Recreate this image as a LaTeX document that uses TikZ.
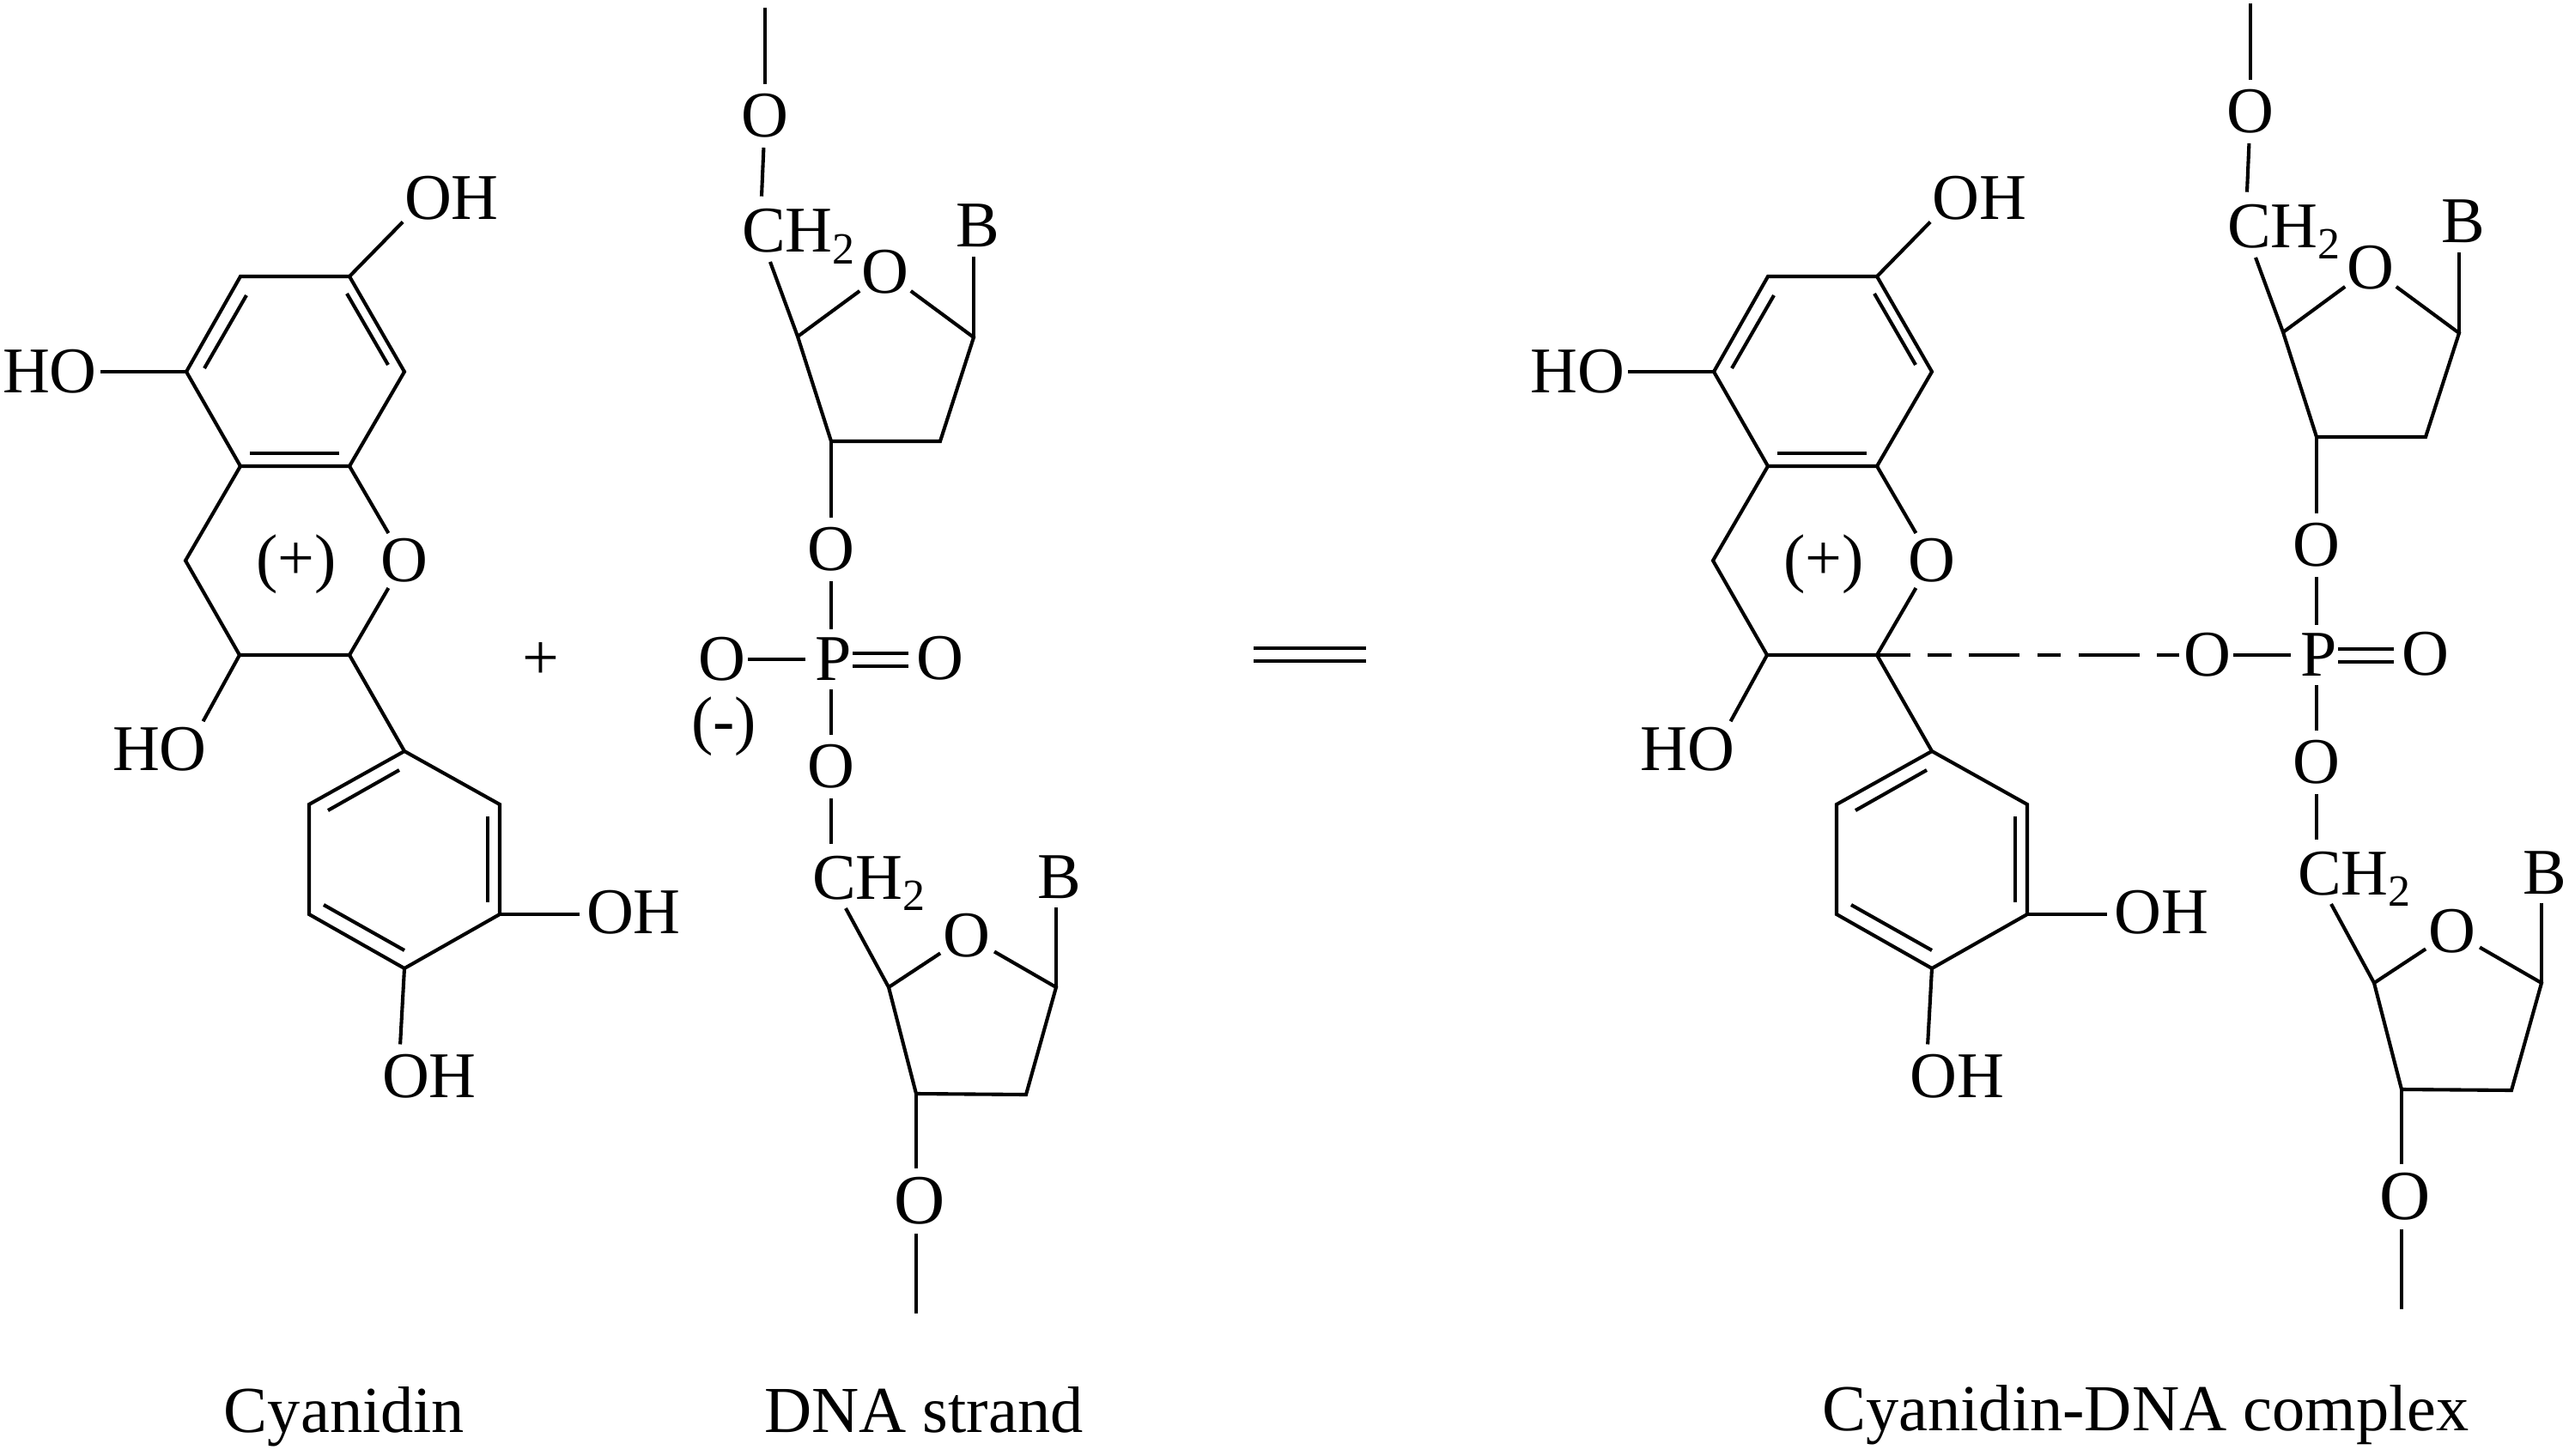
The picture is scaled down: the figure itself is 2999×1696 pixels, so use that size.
\documentclass[tikz,border=0pt]{standalone}
\usepackage{fontspec}
\setmainfont{Liberation Serif}
\tikzset{
  bond/.style={line width=2.05pt,line join=miter,line cap=butt,black},
  lab/.style={inner sep=0pt,outer sep=1pt,font=\fontsize{38}{42}\selectfont},
  atomO/.style={circle,inner sep=-0.5pt,outer sep=0pt,minimum size=37pt,font=\fontsize{38}{42}\selectfont},
  capt/.style={inner sep=0pt,anchor=base,font=\fontsize{38.2}{42}\selectfont},
}
\newcommand{\chtwo}{CH\raisebox{-6.5pt}{\fontsize{26}{28}\selectfont 2}}
\newcommand{\cyanidinmol}{%
  \coordinate (a) at (280,322); \coordinate (b) at (407,322);
  \coordinate (c) at (471,433); \coordinate (d) at (407,543);
  \coordinate (e) at (280,543); \coordinate (f) at (217,433);
  \coordinate (g) at (216,653); \coordinate (h) at (279,763);
  \coordinate (i) at (407,763); \coordinate (j) at (471,875);
  \coordinate (k) at (582,937); \coordinate (l) at (582,1065);
  \coordinate (m) at (471,1128); \coordinate (n) at (360,1065);
  \coordinate (o) at (360,937);
  \coordinate (af1) at (287,344); \coordinate (af2) at (238,429);
  \coordinate (bc1) at (404,342); \coordinate (bc2) at (452,425);
  \coordinate (de1) at (291,528); \coordinate (de2) at (395,528);
  \coordinate (jo1) at (465,897); \coordinate (jo2) at (382,944);
  \coordinate (kl1) at (568,951); \coordinate (kl2) at (568,1051);
  \coordinate (mn1) at (471,1107); \coordinate (mn2) at (377,1054);
  \node[lab] (oha) at (526,231) {OH};
  \node[lab,outer sep=2pt] (hob) at (58,433) {HO};
  \node[lab] (hoc) at (186,873) {HO};
  \node[lab,outer sep=4pt] (ohd) at (738,1063) {OH};
  \node[lab] (ohe) at (500,1254) {OH};
  \node[atomO] (ro) at (471,653) {O};
  \node[lab] (pos) at (345,657) {(+)};
  \draw[bond] (f) -- (a) -- (b) -- (c) -- (d) -- (e) -- cycle;
  \draw[bond] (d) -- (ro);
  \draw[bond] (ro) -- (i) -- (h) -- (g) -- (e);
  \draw[bond] (i) -- (j) -- (k) -- (l) -- (m) -- (n) -- (o) -- (j);
  \draw[bond] (af1) -- (af2); \draw[bond] (bc1) -- (bc2);
  \draw[bond] (de1) -- (de2); \draw[bond] (jo1) -- (jo2);
  \draw[bond] (kl1) -- (kl2); \draw[bond] (mn1) -- (mn2);
  \draw[bond] (b) -- (oha.south west);
  \draw[bond] (f) -- (hob.east);
  \draw[bond,shorten >=3pt] (h) -- (hoc.30);
  \draw[bond] (l) -- ([yshift=-1pt]ohd.west);
  \draw[bond] (m) -- ([xshift=11.5pt,yshift=5pt]ohe.north west);
}
\newcommand{\dnamol}{%
  \coordinate (top) at (891,9);
  \coordinate (bot) at (1067,1530);
  \coordinate (ca4) at (929,392); \coordinate (ca3) at (968,514);
  \coordinate (ca2) at (1095,514); \coordinate (ca1) at (1134,393);
  \coordinate (cb4) at (1035,1150); \coordinate (cb3) at (1067,1274);
  \coordinate (cb2) at (1195,1275); \coordinate (cb1) at (1230,1150);
  \node[atomO] (oa) at (891,135) {O};
  \node[lab,anchor=base west] (cha) at (862,294) {\chtwo};
  \node[atomO] (roa) at (1031,317) {O};
  \node[lab,outer sep=0pt] (ba) at (1139,263) {B};
  \node[atomO] (ob) at (968,640) {O};
  \node[circle,inner sep=0pt,outer sep=0pt,minimum size=35pt,font=\fontsize{38}{42}\selectfont] (p) at (968,768) {\kern3pt P};
  \node[atomO] (ol) at (841,768) {O};
  \node[atomO] (orr) at (1095,767) {O};
  \node[atomO] (oc) at (968,893) {O};
  \node[lab,anchor=base west] (chb) at (944,1047) {\chtwo};
  \node[atomO] (rob) at (1126,1090) {O};
  \node[lab,outer sep=0pt] (bb) at (1234,1022) {B};
  \node[atomO,font=\fontsize{41}{44}\selectfont,inner sep=-2pt,minimum size=38pt] (od) at (1067,1399) {\kern4pt O};
  \draw[bond] (top) -- (oa);
  \draw[bond] (oa) -- ([xshift=12.5pt,yshift=6.5pt]cha.north west);
  \draw[bond] ([xshift=17.5pt,yshift=2pt]cha.south west) -- (ca4) -- (ca3) -- (ca2) -- (ca1) -- (roa) -- (ca4);
  \draw[bond] (ca1) -- ([xshift=-2.5pt,yshift=-5.5pt]ba.south);
  \draw[bond] (ca3) -- (ob);
  \draw[bond] (ob) -- (p);
  \draw[bond] ([xshift=-5pt,yshift=3.5pt]p.east) -- ([yshift=3pt]orr.west);
  \draw[bond] ([xshift=-5pt,yshift=-4pt]p.east) -- ([yshift=-4.5pt]orr.west);
  \draw[bond] (p) -- (oc);
  \draw[bond] (oc) -- ([xshift=12pt,yshift=6pt]chb.north west);
  \draw[bond] ([xshift=20.5pt,yshift=2pt]chb.south west) -- (cb4) -- (cb3) -- (cb2) -- (cb1) -- (rob) -- (cb4);
  \draw[bond] (cb1) -- ([xshift=-2pt,yshift=-5pt]bb.south);
  \draw[bond] (cb3) -- (od);
  \draw[bond] (od) -- (bot);
}
\begin{document}
\begin{tikzpicture}[x=0.5pt,y=-0.5pt]
  \path[use as bounding box,fill=white] (0,0) rectangle (2999,1696);
  \begin{scope}[name prefix=L-]
    \cyanidinmol
  \end{scope}
  \begin{scope}[name prefix=M-]
    \dnamol
    \draw[bond] ([xshift=-3.5pt]ol.east) -- ([xshift=2.5pt]p.west);
    \node[lab] (neg) at (843,846) {(-)};
  \end{scope}
  \begin{scope}[shift={(1779,0)},name prefix=R-]
    \cyanidinmol
  \end{scope}
  \begin{scope}[shift={(1730,-5)},name prefix=S-]
    \dnamol
    \draw[bond] ([xshift=-3.5pt]ol.east) -- ([xshift=2.5pt]p.west);
  \end{scope}
  \node[lab] (plus) at (630,770) {+};
  \coordinate (eqa) at (1460,755); \coordinate (eqb) at (1591,755);
  \coordinate (eqc) at (1460,770); \coordinate (eqd) at (1591,770);
  \draw[bond] (eqa) -- (eqb);
  \draw[bond] (eqc) -- (eqd);
  \draw[bond,dash pattern=on 19.5pt off 10pt on 14pt off 10pt on 29.5pt off 10.5pt on 13.5pt off 10.5pt on 35.5pt off 10pt on 13.5pt off 100pt]
    (R-i) -- ([xshift=2pt]S-ol.west);
  \node[capt] (capa) at (401,1668) {Cyanidin};
  \node[capt] (capb) at (1076,1668) {DNA strand};
  \node[capt] (capc) at (2499,1666) {Cyanidin-DNA complex};
\end{tikzpicture}
\end{document}
